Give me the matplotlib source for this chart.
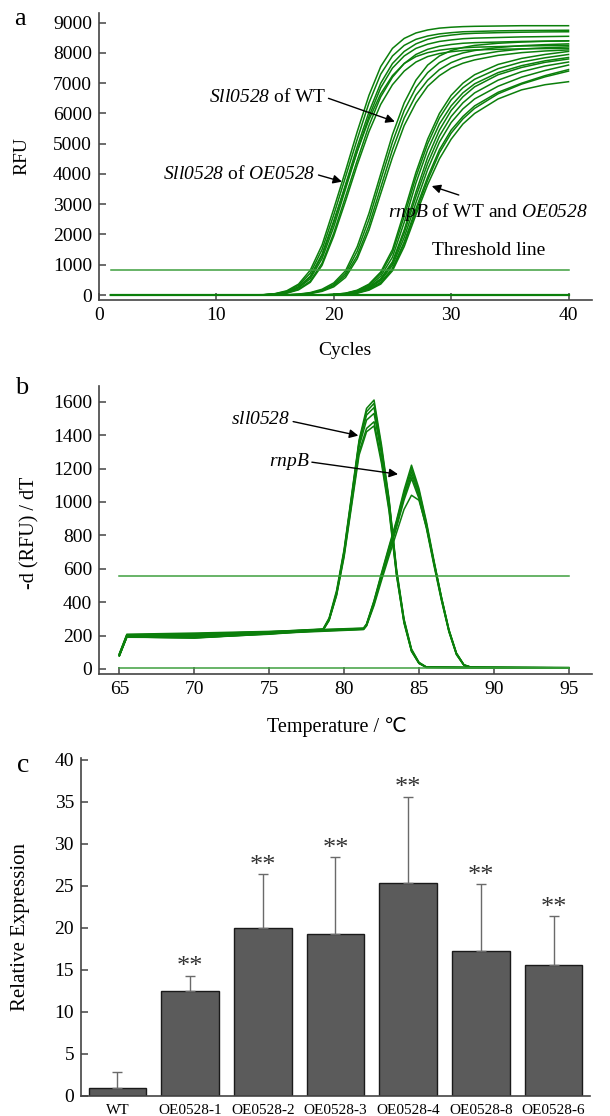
import numpy as np
import matplotlib
matplotlib.use('Agg')
import matplotlib.pyplot as plt

plt.rcParams['font.family'] = ['Liberation Serif', 'DejaVu Sans']
plt.rcParams['mathtext.fontset'] = 'custom'
plt.rcParams['mathtext.rm'] = 'Liberation Serif'
# \mathsf is used as the italic face so that digits are slanted too
plt.rcParams['mathtext.sf'] = 'Liberation Serif:italic'

# ---------------- a: amplification curves (RFU per cycle) ----------------
cycles = [1, 12, 14, 15, 16, 17, 18, 19, 20, 21, 22, 23, 24, 25, 26, 27, 28, 29, 30, 31, 32, 34, 36, 38, 40]

# Sll0528 of OE0528
rfu_oe = [
    [0, 0, 10, 45, 140, 360, 820, 1650, 2850, 4100, 5400, 6600, 7550, 8150, 8480, 8660, 8760, 8820, 8850, 8870, 8880, 8890, 8900, 8900, 8900],
    [0, 0, 8, 40, 120, 320, 720, 1500, 2650, 3900, 5150, 6350, 7300, 7900, 8250, 8450, 8560, 8630, 8670, 8700, 8710, 8730, 8740, 8745, 8750],
    [0, 0, 5, 30, 95, 260, 600, 1300, 2400, 3650, 4900, 6050, 7000, 7650, 8050, 8300, 8450, 8540, 8590, 8630, 8650, 8670, 8685, 8695, 8700],
    [0, 0, 5, 25, 85, 230, 540, 1200, 2250, 3500, 4750, 5900, 6850, 7500, 7900, 8150, 8290, 8380, 8430, 8470, 8490, 8510, 8530, 8540, 8550],
    [0, 0, 4, 20, 70, 190, 460, 1050, 2050, 3250, 4450, 5600, 6550, 7200, 7650, 7950, 8120, 8220, 8280, 8320, 8340, 8360, 8380, 8390, 8400],
    [0, 0, 6, 30, 100, 270, 620, 1350, 2450, 3600, 4750, 5800, 6650, 7250, 7650, 7880, 8010, 8090, 8140, 8170, 8190, 8210, 8230, 8240, 8250],
    [0, 0, 3, 18, 60, 170, 420, 980, 1950, 3100, 4300, 5400, 6300, 6950, 7400, 7700, 7880, 7980, 8040, 8080, 8100, 8120, 8135, 8145, 8150],
]
# Sll0528 of WT
rfu_wt = [
    [0, 0, 0, 0, 8, 30, 80, 190, 400, 800, 1600, 2700, 4000, 5300, 6350, 7100, 7600, 7900, 8080, 8180, 8250, 8320, 8360, 8385, 8400],
    [0, 0, 0, 0, 5, 22, 65, 160, 350, 720, 1450, 2500, 3800, 5050, 6100, 6850, 7350, 7680, 7880, 8000, 8080, 8180, 8240, 8275, 8300],
    [0, 0, 0, 0, 4, 18, 55, 140, 310, 650, 1300, 2300, 3550, 4800, 5850, 6600, 7100, 7450, 7680, 7830, 7920, 8050, 8130, 8170, 8200],
    [0, 0, 0, 0, 3, 15, 45, 120, 270, 580, 1200, 2150, 3350, 4550, 5600, 6350, 6900, 7250, 7500, 7660, 7770, 7920, 8010, 8065, 8100],
]
# rnpB of WT and OE0528
rfu_rnpb = [
    [0, 0, 0, 0, 0, 0, 0, 5, 20, 60, 160, 360, 760, 1500, 2750, 4050, 5150, 6000, 6600, 7000, 7280, 7620, 7820, 7950, 8050],
    [0, 0, 0, 0, 0, 0, 0, 4, 18, 55, 145, 330, 700, 1400, 2600, 3900, 5000, 5850, 6450, 6850, 7130, 7480, 7700, 7840, 7950],
    [0, 0, 0, 0, 0, 0, 0, 3, 15, 45, 125, 290, 620, 1250, 2400, 3700, 4800, 5650, 6250, 6680, 6980, 7350, 7580, 7740, 7850],
    [0, 0, 0, 0, 0, 0, 0, 3, 12, 38, 105, 250, 540, 1100, 2150, 3400, 4550, 5450, 6100, 6550, 6880, 7280, 7520, 7690, 7800],
    [0, 0, 0, 0, 0, 0, 0, 3, 12, 35, 100, 240, 520, 1050, 2050, 3250, 4350, 5250, 5900, 6350, 6680, 7100, 7380, 7570, 7700],
    [0, 0, 0, 0, 0, 0, 0, 2, 10, 30, 90, 220, 480, 980, 1900, 3050, 4150, 5050, 5700, 6150, 6480, 6900, 7200, 7420, 7600],
    [0, 0, 0, 0, 0, 0, 0, 2, 8, 25, 75, 190, 420, 880, 1750, 2850, 3900, 4800, 5450, 5900, 6250, 6700, 7000, 7250, 7450],
    [0, 0, 0, 0, 0, 0, 0, 2, 8, 24, 70, 180, 400, 850, 1700, 2750, 3800, 4700, 5350, 5820, 6170, 6650, 6970, 7210, 7400],
    [0, 0, 0, 0, 0, 0, 0, 1, 6, 20, 60, 160, 360, 800, 1600, 2650, 3650, 4500, 5150, 5650, 6000, 6480, 6780, 6950, 7050],
]
threshold_a = 830

# ---------------- b: melt peaks -d(RFU)/dT ----------------
temp_sll = [65.0, 65.5, 70, 75, 78.6, 79.0, 79.5, 80.0, 80.5, 81.0, 81.5, 82.0, 82.5, 83.0, 83.5, 84.0, 84.5, 85.0, 85.5, 90, 95]
melt_sll = [
    [90, 205, 210, 222, 240, 305, 470, 715, 1040, 1370, 1560, 1610, 1340, 1020, 600, 300, 120, 40, 12, 8, 6],
    [85, 200, 205, 220, 238, 300, 460, 705, 1030, 1360, 1540, 1590, 1320, 1010, 590, 295, 115, 38, 11, 8, 6],
    [80, 198, 200, 218, 236, 298, 455, 700, 1020, 1350, 1520, 1565, 1305, 1000, 585, 290, 112, 36, 10, 7, 5],
    [88, 195, 190, 212, 235, 295, 450, 690, 1005, 1330, 1490, 1530, 1285, 985, 575, 285, 110, 35, 10, 7, 5],
    [82, 192, 185, 210, 233, 292, 445, 680, 990, 1300, 1440, 1480, 1250, 960, 565, 280, 108, 34, 10, 7, 5],
    [78, 190, 188, 208, 232, 290, 440, 670, 975, 1280, 1420, 1455, 1230, 945, 560, 275, 105, 33, 9, 7, 5],
]
temp_rnp = [65.0, 65.5, 70, 75, 81.3, 81.5, 82.0, 82.5, 83.0, 83.5, 84.0, 84.5, 85.0, 85.5, 86.0, 86.5, 87.0, 87.5, 88.0, 88.5, 95]
melt_rnp = [
    [92, 208, 215, 225, 245, 270, 410, 575, 735, 890, 1070, 1220, 1080, 880, 650, 430, 235, 95, 25, 10, 8],
    [86, 203, 210, 223, 243, 268, 405, 568, 725, 880, 1055, 1200, 1065, 870, 640, 425, 230, 92, 24, 10, 8],
    [84, 200, 205, 220, 241, 265, 400, 560, 715, 870, 1040, 1180, 1050, 860, 635, 420, 228, 90, 23, 9, 7],
    [80, 197, 198, 218, 239, 262, 395, 553, 705, 858, 1025, 1160, 1035, 850, 628, 415, 225, 88, 22, 9, 7],
    [83, 194, 192, 215, 238, 260, 390, 546, 695, 846, 1010, 1140, 1020, 840, 620, 410, 222, 86, 22, 9, 7],
    [79, 192, 186, 212, 236, 258, 380, 530, 675, 815, 955, 1040, 1010, 850, 640, 430, 235, 95, 25, 10, 8],
]
threshold_b = 556

# ---------------- c: relative expression ----------------
strains = ['WT', 'OE0528-1', 'OE0528-2', 'OE0528-3', 'OE0528-4', 'OE0528-8', 'OE0528-6']
expr = [1.0, 12.5, 20.0, 19.3, 25.3, 17.3, 15.6]
expr_err = [1.9, 1.8, 6.4, 9.1, 10.3, 7.9, 5.8]
signif = ['', '**', '**', '**', '**', '**', '**']

GREEN = '#0b7f0b'
THR = '#3f9f3f'
SPINE = '#444444'

W, H = 610, 1116
fig = plt.figure(figsize=(W / 100, H / 100), dpi=100)


def ax_box(left, top, right, bottom):
    return fig.add_axes([left / W, 1 - bottom / H, (right - left) / W, (bottom - top) / H])


def style(ax, fs=14):
    for s in ['top', 'right']:
        ax.spines[s].set_visible(False)
    for s in ['left', 'bottom']:
        ax.spines[s].set_color(SPINE)
        ax.spines[s].set_linewidth(1.2)
    ax.tick_params(direction='in', length=5, width=1.1, color=SPINE, labelsize=fs, pad=5)


def ftext(px, py, s, **kw):
    fig.text(px / W, 1 - py / H, s, ha='center', va='center', **kw)


# panel a
ax = ax_box(99, 12.7, 592, 300)
style(ax)
for curve in rfu_oe + rfu_wt + rfu_rnpb:
    ax.plot(cycles, curve, color=GREEN, lw=1.1)
ax.plot([1, 40], [0, 0], color=GREEN, lw=1.6)
ax.plot([1, 40], [threshold_a, threshold_a], color=THR, lw=1.1)
ax.set_xlim(0, 42)
ax.set_ylim(-165, 9330)
ax.set_xticks([0, 10, 20, 30, 40])
ax.set_yticks(np.arange(0, 9001, 1000))

arrow = dict(arrowstyle='-|>', color='black', lw=1.0, mutation_scale=13, shrinkA=0, shrinkB=0)
ax.text(19.35, 6540, r'$\mathsf{Sll0528}$ of WT', ha='right', va='center', fontsize=14)
ax.annotate('', xy=(25.2, 5730), xytext=(19.55, 6500), arrowprops=arrow)
ax.text(18.45, 4000, r'$\mathsf{Sll0528}$ of $\mathsf{OE0528}$', ha='right', va='center', fontsize=14)
ax.annotate('', xy=(20.7, 3745), xytext=(18.7, 3965), arrowprops=arrow)
ax.text(24.6, 2745, r'$\mathsf{rnpB}$ of WT and $\mathsf{OE0528}$', ha='left', va='center', fontsize=14)
ax.annotate('', xy=(28.35, 3600), xytext=(30.65, 3305), arrowprops=arrow)
ax.text(28.35, 1455, 'Threshold line', ha='left', va='center', fontsize=14)

# panel b
ax = ax_box(99, 386, 592, 674)
style(ax)
for curve in melt_sll:
    ax.plot(temp_sll, curve, color=GREEN, lw=1.1)
for curve in melt_rnp:
    ax.plot(temp_rnp, curve, color=GREEN, lw=1.1)
ax.plot([65, 95], [5, 5], color=THR, lw=1.1)
ax.plot([65, 95], [threshold_b, threshold_b], color=THR, lw=1.1)
ax.set_xlim(63.64, 96.55)
ax.set_ylim(-30, 1694)
ax.set_xticks(np.arange(65, 96, 5))
ax.set_yticks(np.arange(0, 1601, 200))
ax.text(76.4, 1491, r'$\mathsf{sll0528}$', ha='right', va='center', fontsize=14)
ax.annotate('', xy=(80.95, 1397), xytext=(76.6, 1481), arrowprops=arrow)
ax.text(77.7, 1240, r'$\mathsf{rnpB}$', ha='right', va='center', fontsize=14)
ax.annotate('', xy=(83.6, 1166), xytext=(77.85, 1238), arrowprops=arrow)

# panel c
ax = ax_box(81, 758, 590, 1096)
style(ax)
x = np.arange(len(strains))
ax.bar(x, expr, width=0.79, color='#5b5b5b', edgecolor='#1a1a1a', linewidth=1.0, zorder=2)
ax.errorbar(x, expr, yerr=[np.zeros(len(expr)), expr_err], fmt='none',
            ecolor='#6a6a6a', elinewidth=1.0, capsize=3.5, capthick=1.0, zorder=3)
for xi, v, e, s in zip(x, expr, expr_err, signif):
    if s:
        ax.text(xi, v + e - 0.3, s, ha='center', va='bottom', fontsize=19, color='#333333')
ax.set_xlim(-0.5, 6.5)
ax.set_ylim(0, 40.2)
ax.set_xticks(x)
ax.set_xticklabels(strains, fontsize=11)
ax.set_yticks(np.arange(0, 41, 5))
ax.tick_params(axis='x', pad=6)

# labels
ftext(22, 156, 'RFU', fontsize=14, rotation=90)
ftext(345, 351, 'Cycles', fontsize=14)
ftext(30, 533, '-d (RFU) / dT', fontsize=14.5, rotation=90)
ftext(337, 727, 'Temperature / ℃', fontsize=14.5)
ftext(21, 927, 'Relative Expression', fontsize=15, rotation=90)
ftext(20, 19, 'a', fontsize=19)
ftext(22, 388, 'b', fontsize=19)
ftext(23, 765, 'c', fontsize=20)

fig.savefig('out.png', dpi=100)
